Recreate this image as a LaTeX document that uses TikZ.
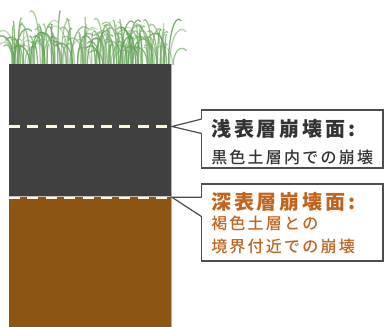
\documentclass[tikz,border=0pt]{standalone}
\usepackage{fontspec}
\newfontfamily\jpfont[LetterSpace=14]{Noto Sans CJK JP}
\newfontfamily\jpmedium[LetterSpace=14]{Noto Sans CJK JP Medium}
\usetikzlibrary{positioning}

\definecolor{topsoil}{HTML}{404040}
\definecolor{subsoil}{HTML}{8C5514}
\definecolor{slipcream}{HTML}{FFF4DC}
\definecolor{shallowink}{HTML}{333333}
\definecolor{deepink}{HTML}{C0641E}
\definecolor{boxline}{HTML}{4D4D4D}
\definecolor{grassgreen}{HTML}{5A9A4C}
\definecolor{grasslight}{HTML}{8CC07E}

\tikzset{
  blade/.style={line width=0.95pt, line cap=round},
  slipline/.style={slipcream, line width=2.2pt, dash pattern=on 8.25pt off 5.55pt},
  calloutbox/.style={draw=boxline, line width=0.9pt, fill=white, minimum width=136pt, inner sep=0pt},
  pointer/.style={draw=boxline, line width=0.9pt, line join=miter},
  titletext/.style={anchor=west, inner sep=0pt, font=\jpfont\bfseries\fontsize{15pt}{15pt}\selectfont},
  bodytext/.style={anchor=west, inner sep=0pt, font=\jpmedium\fontsize{12pt}{12pt}\selectfont},
}

\begin{document}
\begin{tikzpicture}[x=0.75pt, y=-0.75pt]
\useasboundingbox (0,0) rectangle (384,327);

% Grass on top of the profile
\pgfmathsetseed{11}
\foreach \i in {1,...,170} {
  \pgfmathsetmacro\bx{12+162*rnd}
  \pgfmathsetmacro\bh{16+28*rnd+16*rnd*rnd}
  \pgfmathsetmacro\lean{(rnd-0.5)*36}
  \pgfmathsetmacro\op{0.35+0.5*rnd}
  \pgfmathsetmacro\mix{40+60*rnd}
  \pgfmathsetmacro\tipx{\bx+\lean}
  \pgfmathsetmacro\tipy{64-\bh+0.4*abs(\lean)}
  \pgfmathsetmacro\cx{\bx+0.5*\lean}
  \pgfmathsetmacro\cya{64-0.6*\bh}
  \pgfmathsetmacro\cyb{64-1.05*\bh}
  \draw[blade, grassgreen!\mix!grasslight, opacity=\op] (\bx,64.5) .. controls (\bx,\cya) and (\cx,\cyb) .. (\tipx,\tipy);
}

% Soil layers
\fill[subsoil] (9,196) rectangle (171,327);
\fill[topsoil] (9,64) rectangle (171,196);
\draw[gray!60, line width=0.5pt] (171,64) -- (171,327);
\draw[gray!50, line width=0.5pt] (9,196.3) -- (171,196.3);

% Slip surfaces
\draw[slipline] (9,126.7) -- (171,126.7);
\draw[slipline, line width=1.8pt] (9,197.8) -- (171,197.8);

% Shallow slip callout
\node[calloutbox, minimum height=43.5pt] (shallowbox) at (292.35,139) {};
\coordinate (shallowtip) at (172,126.5);
\coordinate (shallowup) at (201.7,119);
\coordinate (shallowlow) at (201.7,133.5);
\fill[white] (shallowtip) -- (shallowup) -- ++(2,0) -- ([xshift=1.5pt]shallowlow) -- (shallowlow) -- cycle;
\draw[pointer] (shallowup) -- (shallowtip) -- (shallowlow);
\node[titletext, text=shallowink] (shallowtitle) at (211,129) {浅表層崩壊面:};
\node[bodytext, text=shallowink] (shallownote) at (211,157.5) {黒色土層内での崩壊};

% Deep slip callout
\node[calloutbox, minimum height=57.75pt] (deepbox) at (292.35,222.5) {};
\coordinate (deeptip) at (172,197.3);
\coordinate (deepup) at (201.7,197.3);
\coordinate (deeplow) at (201.7,216.7);
\fill[white] (deeptip) -- (deepup) -- ++(2,0) -- ([xshift=1.5pt]deeplow) -- (deeplow) -- cycle;
\draw[pointer] (deepup) -- (deeptip) -- (deeplow);
\node[titletext, text=deepink] (deeptitle) at (211,201.5) {深表層崩壊面:};
\node[bodytext, text=deepink] (deepnote) at (211,223.5) {褐色土層との};
\node[bodytext, text=deepink] (deepnotetwo) at (211,246.5) {境界付近での崩壊};
\end{tikzpicture}
\end{document}
